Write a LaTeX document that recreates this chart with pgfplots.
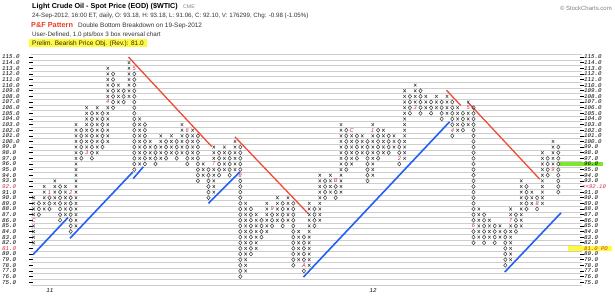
\documentclass[border=0pt]{standalone}
\usepackage{pgfplots}
\pgfplotsset{compat=1.18}
\usepackage{fontspec}
\setmainfont{Liberation Sans}
\newfontfamily\monofont{Liberation Mono}
\definecolor{pfred}{RGB}{200,45,70}
\definecolor{hdred}{RGB}{235,60,40}
\definecolor{mkcol}{RGB}{60,60,60}
\definecolor{tlblue}{RGB}{35,95,245}
\definecolor{tlred}{RGB}{240,75,55}
\definecolor{gridc}{RGB}{205,205,205}
\definecolor{hlgreen}{RGB}{125,230,45}
\definecolor{hlyellow}{RGB}{255,250,60}
\begin{document}
\begin{tikzpicture}[x=1pt,y=1pt]
\path[use as bounding box] (0,0) rectangle (615,296);
% ---------- header ----------
\node[anchor=base west,inner sep=0,font=\bfseries\fontsize{7.2}{8}\selectfont] at (32,287.3) {Light Crude Oil - Spot Price (EOD) (\$WTIC)};
\node[anchor=base west,inner sep=0,text=gray,font=\fontsize{5.2}{6}\selectfont] at (183,287.3) {CME};
\node[anchor=base west,inner sep=0,text=black!80,font=\fontsize{6.2}{7}\selectfont] at (32,278.2) {24-Sep-2012, 16:00 ET, daily, O: 93.18, H: 93.18, L: 91.06, C: 92.10, V: 176299, Chg: -0.98 (-1.05\%)};
\node[anchor=base west,inner sep=0,text=hdred,font=\bfseries\fontsize{7.3}{8}\selectfont] at (31,268.6) {P\&F Pattern};
\node[anchor=base west,inner sep=0,text=black!80,font=\fontsize{6.4}{7}\selectfont] at (78,268.8) {Double Bottom Breakdown on 19-Sep-2012};
\node[anchor=base west,inner sep=0,text=black!80,font=\fontsize{6.3}{7}\selectfont] at (32,259.6) {User-Defined, 1.0 pts/box 3 box reversal chart};
\fill[hlyellow] (29.3,248.7) rectangle (146.7,256.7);
\node[anchor=base west,inner sep=0,text=black!85,font=\fontsize{6.5}{7}\selectfont] at (32,250.4) {Prelim. Bearish Price Obj. (Rev.): 81.0};
\node[anchor=base east,inner sep=0,text=gray,font=\fontsize{6}{7}\selectfont] at (612,285.5) {\textcopyright\ StockCharts.com};
% ---------- chart ----------
\begin{axis}[
  at={(30.95pt,11pt)}, anchor=south west,
  scale only axis, width=551.2pt, height=230.8pt,
  xmin=0.5, xmax=104.5, ymin=74.5, ymax=115.5,
  enlargelimits=false, clip=false,
  axis line style={draw=none},
  xtick=\empty,
  ytick={75,76,...,115}, yticklabels={}, ytick pos=both,
  tick align=center, major tick length=4pt,
  tick style={black, line width=0.6pt},
  minor xtick={0.5,1.5,...,104.5},
  minor ytick={74.5,75.5,...,115.5},
  minor tick length=0pt,
  grid=minor, minor grid style={gridc, line width=0.5pt},
]
% highlight bars (right scale)
\addplot[hlgreen, line width=4.5pt, forget plot] coordinates {(100.2,96) (108.4,96)};
\addplot[hlyellow, line width=5pt, forget plot] coordinates {(101.9,81) (110.2,81)};
% trend lines
\addplot[tlblue, line width=1.6pt] coordinates {(0.9,79.9) (7.5,86.5)};
\addplot[tlblue, line width=1.6pt] coordinates {(7.87,82.8) (19.75,94.6)};
\addplot[tlblue, line width=1.6pt] coordinates {(19.8,93.4) (21.7,95.5)};
\addplot[tlblue, line width=1.6pt] coordinates {(34.0,89.0) (39.9,94.6)};
\addplot[tlblue, line width=1.6pt] coordinates {(51.9,75.9) (79.5,103.5)};
\addplot[tlblue, line width=1.6pt] coordinates {(89.9,76.8) (100.5,87.3)};
\addplot[tlred, line width=1.3pt] coordinates {(18.9,115.0) (34.6,99.1)};
\addplot[tlred, line width=1.3pt] coordinates {(39.0,100.8) (52.8,87.2)};
\addplot[tlred, line width=1.3pt] coordinates {(78.9,109.1) (81.6,106.4)};
\addplot[tlred, line width=1.3pt] coordinates {(83.0,106.9) (96.5,93.3)};
% X boxes
\addplot[only marks, mark=x, mark size=1.75pt, mark options={mkcol, line width=0.5pt, yscale=1.15}] coordinates {
(1,82)(1,83)(1,84)(1,85)(1,87)(1,88)(1,89)(1,90)
(3,88)(3,89)(3,90)(3,91)(3,92)
(5,89)(5,90)(5,91)(5,92)(5,93)
(7,87)(7,88)(7,89)(7,90)(7,91)(7,92)
(9,85)(9,86)(9,87)(9,88)(9,89)(9,90)(9,91)(9,92)(9,93)(9,94)(9,95)(9,96)(9,97)(9,98)(9,99)(9,100)(9,101)(9,102)(9,103)
(11,99)(11,100)(11,101)(11,102)(11,103)(11,104)(11,105)(11,106)
(13,98)(13,99)(13,100)(13,101)(13,102)(13,103)(13,104)(13,105)(13,106)
(15,100)(15,101)(15,102)(15,103)(15,104)(15,105)(15,106)(15,108)(15,109)(15,110)(15,111)(15,112)(15,113)
(17,107)(17,108)(17,109)(17,110)
(19,108)(19,109)(19,110)(19,111)(19,112)(19,113)(19,114)
(21,96)(21,97)(21,98)(21,99)(21,100)(21,101)(21,102)(21,103)(21,104)
(23,97)(23,98)(23,99)(23,100)
(25,97)(25,98)(25,99)(25,100)(25,101)
(27,98)(27,99)(27,100)(27,101)
(29,98)(29,99)(29,100)(29,101)(29,102)(29,103)
(31,97)(31,98)(31,99)(31,100)(31,101)(31,102)
(33,94)(33,95)(33,96)
(35,91)(35,92)(35,93)(35,94)(35,95)(35,97)(35,98)(35,99)
(37,95)(37,96)(37,97)(37,98)(37,99)
(39,95)(39,96)(39,97)(39,98)(39,99)(39,100)
(41,77)(41,78)(41,79)(41,80)(41,81)(41,82)(41,83)(41,84)(41,85)(41,86)(41,87)(41,88)(41,89)
(43,81)(43,82)(43,83)(43,84)(43,85)(43,86)(43,87)
(45,84)(45,85)(45,86)(45,87)(45,88)(45,89)
(47,86)(47,87)(47,88)(47,89)(47,90)
(49,86)(49,87)(49,88)(49,89)(49,90)
(51,79)(51,80)(51,81)(51,82)(51,83)(51,84)
(53,78)(53,79)(53,80)(53,81)(53,82)(53,83)(53,84)(53,85)(53,86)(53,87)(53,88)(53,89)
(55,86)(55,87)(55,88)(55,89)(55,90)(55,91)(55,92)(55,93)(55,94)
(57,91)(57,92)(57,93)(57,94)
(59,91)(59,92)(59,93)(59,94)(59,95)(59,96)(59,97)(59,98)(59,99)(59,100)(59,101)(59,102)(59,103)
(61,96)(61,97)(61,98)(61,99)(61,100)(61,101)
(63,98)(63,99)(63,100)(63,101)
(65,94)(65,95)(65,96)(65,97)(65,98)(65,99)(65,100)(65,101)(65,103)
(67,98)(67,99)(67,100)(67,101)(67,102)
(69,99)(69,100)(69,101)
(71,97)(71,98)(71,99)(71,100)(71,101)(71,102)(71,103)(71,104)(71,105)(71,106)(71,107)(71,108)(71,109)
(73,107)(73,108)(73,109)(73,110)
(75,106)(75,107)(75,108)
(77,106)(77,107)(77,108)
(79,105)(79,106)(79,107)(79,108)
(81,102)(81,103)(81,104)(81,105)(81,106)
(83,103)(83,104)(83,105)(83,107)
(85,83)(85,84)(85,85)(85,86)(85,87)(85,88)
(87,83)(87,84)(87,85)(87,86)
(89,83)(89,84)(89,85)
(91,79)(91,80)(91,81)(91,82)(91,83)(91,84)(91,85)(91,87)(91,88)
(93,85)(93,86)(93,87)(93,88)(93,89)(93,90)(93,91)(93,92)(93,93)
(95,89)(95,90)(95,91)
(97,89)(97,90)(97,91)(97,92)(97,93)(97,94)(97,95)(97,96)(97,97)(97,98)
(99,96)(99,97)(99,98)(99,99)(99,100)
};
% O boxes
\addplot[only marks, mark=o, mark size=1.7pt, mark options={mkcol, line width=0.5pt, yscale=1.15}] coordinates {
(2,87)(2,88)(2,89)
(4,88)(4,89)(4,90)
(6,86)(6,87)(6,88)(6,89)(6,90)(6,91)(6,92)
(8,84)(8,85)(8,86)(8,87)(8,88)(8,89)(8,90)
(10,97)(10,98)(10,99)(10,100)(10,101)(10,102)
(12,97)(12,98)(12,99)(12,100)(12,101)(12,102)(12,103)(12,104)(12,105)
(14,99)(14,100)(14,101)(14,102)(14,103)(14,104)(14,105)
(16,106)(16,107)(16,108)(16,109)(16,110)(16,111)(16,112)
(18,107)(18,108)(18,109)
(20,95)(20,96)(20,97)(20,98)(20,99)(20,100)(20,101)(20,102)(20,103)(20,104)(20,105)(20,106)(20,107)(20,108)(20,109)(20,110)(20,111)(20,112)
(22,96)(22,97)(22,98)(22,99)(22,100)(22,101)(22,102)(22,103)
(24,96)(24,97)(24,98)(24,99)
(26,97)(26,98)(26,99)(26,100)
(28,97)(28,98)(28,99)(28,100)
(30,96)(30,97)(30,98)(30,99)(30,100)(30,101)
(32,93)(32,94)(32,95)(32,96)(32,97)(32,98)(32,99)(32,100)(32,101)
(34,90)(34,91)(34,92)(34,93)(34,94)(34,95)
(36,94)(36,95)(36,96)(36,97)(36,98)
(38,94)(38,95)(38,96)(38,97)(38,98)
(40,76)(40,77)(40,78)(40,79)(40,80)(40,81)(40,82)(40,83)(40,84)(40,85)(40,86)(40,87)(40,88)(40,89)(40,90)(40,91)(40,92)(40,93)(40,95)(40,96)(40,97)(40,98)(40,99)
(42,80)(42,81)(42,82)(42,83)(42,84)(42,85)(42,86)(42,87)(42,88)
(44,83)(44,84)(44,85)(44,86)
(46,85)(46,86)(46,87)
(48,85)(48,86)(48,87)(48,88)(48,89)
(50,78)(50,79)(50,80)(50,81)(50,82)(50,83)(50,84)(50,85)(50,86)(50,87)(50,88)(50,89)
(52,77)(52,79)(52,80)(52,81)(52,82)(52,83)
(54,85)(54,86)(54,87)(54,88)
(56,90)(56,91)(56,92)(56,93)
(58,90)(58,91)(58,92)
(60,95)(60,96)(60,97)(60,98)(60,99)(60,100)(60,101)(60,102)
(62,97)(62,98)(62,99)(62,100)(62,101)
(64,93)(64,94)(64,95)(64,96)(64,97)(64,98)(64,99)(64,100)
(66,97)(66,98)(66,99)(66,100)(66,101)(66,102)
(68,98)(68,99)(68,100)(68,101)
(70,96)(70,98)(70,99)(70,100)
(72,105)(72,106)(72,107)(72,108)
(74,105)(74,106)(74,107)(74,108)(74,109)
(76,105)(76,106)(76,107)
(78,104)(78,105)(78,106)(78,107)
(80,101)(80,103)(80,104)(80,105)(80,106)(80,107)
(82,102)(82,103)(82,104)(82,105)
(84,82)(84,83)(84,84)(84,86)(84,87)(84,88)(84,89)(84,90)(84,91)(84,92)(84,93)(84,94)(84,95)(84,96)(84,97)(84,98)(84,99)(84,100)(84,101)(84,102)(84,103)(84,104)(84,105)(84,106)
(86,82)(86,83)(86,84)(86,85)(86,86)(86,87)
(88,82)(88,83)(88,84)(88,85)
(90,78)(90,79)(90,80)(90,81)(90,82)(90,83)(90,84)
(92,84)(92,85)(92,86)(92,87)
(94,88)(94,89)(94,90)(94,91)(94,92)
(96,88)(96,90)
(98,94)(98,95)(98,96)(98,97)
(100,91)(100,92)(100,93)(100,94)(100,95)(100,96)(100,97)(100,98)(100,99)
};
% month markers
\addplot[only marks, mark=none, nodes near coords, point meta=explicit symbolic,
  every node near coord/.append style={anchor=center, inner sep=0pt, text=pfred, font=\itshape\fontsize{5.6}{6}\selectfont}]
  coordinates {(1,86)[C] (4,91)[1] (8,91)[2] (11,98)[3] (15,107)[4] (20,113)[5] (30,102)[6] (35,96)[7] (40,94)[8] (46,88)[9] (52,78)[A] (58,93)[B] (61,102)[C] (65,102)[1] (70,97)[2] (73,106)[3] (80,102)[4] (83,106)[5] (84,85)[6] (91,86)[7] (96,89)[8] (99,95)[9]};
% left scale labels
\addplot[only marks, mark=none, nodes near coords, point meta=explicit symbolic,
  every node near coord/.append style={anchor=west, inner sep=0pt, text=black, font=\monofont\itshape\fontsize{5.8}{6}\selectfont}]
  coordinates {(-4.96,115)[115.0] (-4.96,114)[114.0] (-4.96,113)[113.0] (-4.96,112)[112.0] (-4.96,111)[111.0] (-4.96,110)[110.0] (-4.96,109)[109.0] (-4.96,108)[108.0] (-4.96,107)[107.0] (-4.96,106)[106.0] (-4.96,105)[105.0] (-4.96,104)[104.0] (-4.96,103)[103.0] (-4.96,102)[102.0] (-4.96,101)[101.0] (-4.96,100)[100.0] (-4.96,99)[99.0] (-4.96,98)[98.0] (-4.96,97)[97.0] (-4.96,96)[96.0] (-4.96,95)[95.0] (-4.96,94)[94.0] (-4.96,93)[93.0] (-4.96,91)[91.0] (-4.96,90)[90.0] (-4.96,89)[89.0] (-4.96,88)[88.0] (-4.96,87)[87.0] (-4.96,86)[86.0] (-4.96,85)[85.0] (-4.96,84)[84.0] (-4.96,83)[83.0] (-4.96,82)[82.0] (-4.96,80)[80.0] (-4.96,79)[79.0] (-4.96,78)[78.0] (-4.96,77)[77.0] (-4.96,76)[76.0] (-4.96,75)[75.0]};
\addplot[only marks, mark=none, nodes near coords, point meta=explicit symbolic,
  every node near coord/.append style={anchor=west, inner sep=0pt, text=pfred, font=\monofont\itshape\fontsize{5.8}{6}\selectfont}]
  coordinates {(-4.96,92)[92.0] (-4.96,81)[81.0]};
% right scale labels
\addplot[only marks, mark=none, nodes near coords, point meta=explicit symbolic,
  every node near coord/.append style={anchor=west, inner sep=0pt, text=black, font=\monofont\itshape\fontsize{5.8}{6}\selectfont}]
  coordinates {(104.85,115)[115.0] (104.85,114)[114.0] (104.85,113)[113.0] (104.85,112)[112.0] (104.85,111)[111.0] (104.85,110)[110.0] (104.85,109)[109.0] (104.85,108)[108.0] (104.85,107)[107.0] (104.85,106)[106.0] (104.85,105)[105.0] (104.85,104)[104.0] (104.85,103)[103.0] (104.85,102)[102.0] (104.85,101)[101.0] (104.85,100)[100.0] (104.85,99)[99.0] (104.85,98)[98.0] (104.85,97)[97.0] (104.85,96)[96.0] (104.85,95)[95.0] (104.85,94)[94.0] (104.85,93)[93.0] (104.85,91)[91.0] (104.85,90)[90.0] (104.85,89)[89.0] (104.85,88)[88.0] (104.85,87)[87.0] (104.85,86)[86.0] (104.85,85)[85.0] (104.85,84)[84.0] (104.85,83)[83.0] (104.85,82)[82.0] (104.85,80)[80.0] (104.85,79)[79.0] (104.85,78)[78.0] (104.85,77)[77.0] (104.85,76)[76.0] (104.85,75)[75.0]};
\addplot[only marks, mark=none, nodes near coords, point meta=explicit symbolic,
  every node near coord/.append style={anchor=west, inner sep=0pt, text=pfred, font=\monofont\itshape\fontsize{5.6}{6}\selectfont}]
  coordinates {(104.5,92)[<<92.10] (104.85,81)[81.0 PO]};
% year labels
\addplot[only marks, mark=none, nodes near coords, point meta=explicit symbolic,
  every node near coord/.append style={anchor=center, inner sep=0pt, text=black, font=\monofont\itshape\fontsize{5.8}{6}\selectfont}]
  coordinates {(4.09,73.44)[11] (65.04,73.44)[12]};
\end{axis}
\end{tikzpicture}
\end{document}
